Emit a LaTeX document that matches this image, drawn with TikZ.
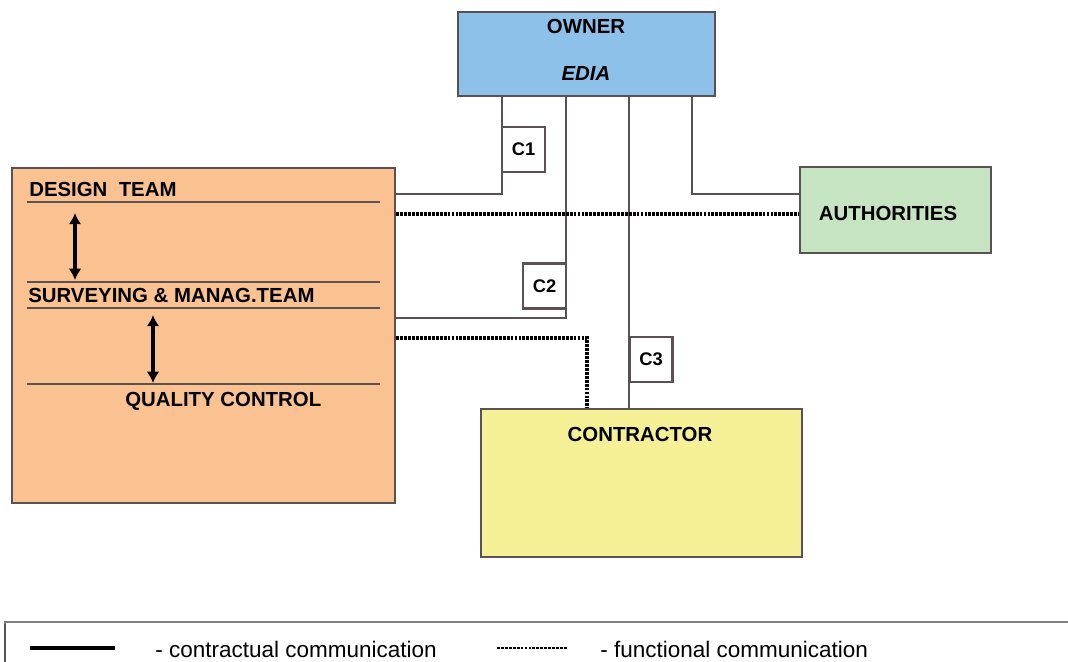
\documentclass[tikz,border=0pt]{standalone}
\usepackage{fontspec}
\setmainfont{Liberation Sans}
\usetikzlibrary{arrows.meta,calc}
\definecolor{ownerblue}{HTML}{8EC1E9}
\definecolor{teamorange}{HTML}{F9C290}
\definecolor{authgreen}{HTML}{C6E4C1}
\definecolor{contryellow}{HTML}{F5F096}
\definecolor{edge}{HTML}{5A5252}
\tikzset{
  box/.style={draw=edge, line width=2pt, inner sep=0pt},
  cbox/.style={draw=edge, line width=1.8pt, fill=white, minimum width=1.075cm, minimum height=1.125cm, inner sep=0pt, font=\bfseries\fontsize{13}{15}\selectfont},
  contract/.style={draw=edge, line width=2pt},
  functional/.style={draw=black, line width=3.2pt, dash pattern=on 2pt off 0.8pt},
  divider/.style={draw=edge, line width=1.8pt},
  lbl/.style={font=\bfseries\fontsize{14.5}{17}\selectfont, inner sep=0pt},
  twoway/.style={{Latex[length=8pt,width=9pt]}-{Latex[length=8pt,width=9pt]}, line width=3pt, black},
  legtext/.style={anchor=west, inner sep=0pt, font=\fontsize{16}{18}\selectfont},
}
\begin{document}
\begin{tikzpicture}[x=0.025cm, y=-0.025cm]
\useasboundingbox (0,0) rectangle (1068,662);

% main parties
\node[box, fill=ownerblue, minimum width=6.425cm, minimum height=2.1cm] (owner) at (586.5,54) {};
\node[lbl] (ownerlbl) at (586,26) {OWNER};
\node[lbl, font=\bfseries\itshape\fontsize{14.5}{17}\selectfont] (edia) at (586,73) {EDIA};

\node[box, fill=teamorange, minimum width=9.575cm, minimum height=8.375cm] (team) at (203.5,335.5) {};
\node[box, fill=authgreen, minimum width=4.775cm, minimum height=2.15cm] (auth) at (895.5,210) {};
\node[lbl] (authlbl) at (888,213) {AUTHORITIES};
\node[box, fill=contryellow, minimum width=8.025cm, minimum height=3.7cm] (contr) at (641.5,483) {};
\node[lbl] (contrlbl) at (640,434) {CONTRACTOR};

% team internals
\draw[divider] (27,202) -- (380,202);
\draw[divider] (27,282) -- (380,282);
\draw[divider] (27,308) -- (380,308);
\draw[divider] (27,384) -- (380,384);
\node[lbl, anchor=west] (design) at (29,189) {DESIGN\ \ TEAM};
\node[lbl, anchor=west] (survey) at (28,295) {SURVEYING \& MANAG.TEAM};
\node[lbl, anchor=west] (quality) at (125,401) {QUALITY CONTROL};
\draw[twoway] (75,213) -- (75,280);
\draw[twoway] (153,315) -- (153,383);

% routing helpers
\coordinate (y1) at (0,194);
\coordinate (y2) at (0,318);
\coordinate (yd1) at (0,214);
\coordinate (yd2) at (0,338);
\coordinate (xa) at (692,0);
\coordinate (xd) at (587,0);

% contract label positions
\coordinate (c1) at (523.5,149.5);
\coordinate (c2) at (544.5,286);
\coordinate (c3) at (651,359.5);
\coordinate (x1) at (502,0);
\coordinate (x2) at (566,0);
\coordinate (x3) at (629,0);

% contractual communication
\draw[contract] (owner.south -| x1) |- (team.east |- y1);
\draw[contract] (owner.south -| x2) |- (team.east |- y2);
\draw[contract] (owner.south -| x3) -- (contr.north -| x3);
\draw[contract] (owner.south -| xa) |- (auth.west |- y1);

% functional communication
\draw[functional] (team.east |- yd1) -- (auth.west |- yd1);
\draw[functional] (team.east |- yd2) -| (contr.north -| xd);

% contract labels over the lines
\node[cbox] (c1box) at (c1) {C1};
\node[cbox] (c2box) at (c2) {C2};
\node[cbox] (c3box) at (c3) {C3};

% legend
\draw[draw=gray, line width=2pt] (5,670) -- (5,622) -- (1075,622);
\draw[draw=edge, line width=1.5pt] (5,624) -- (5,670);
\coordinate (ls1) at (30,648);
\coordinate (ls2) at (115,648);
\draw[draw=black, line width=3.5pt] (ls1) -- (ls2);
\node[legtext] (legc) at (155,649) {- contractual communication};
\coordinate (lf1) at (497,648);
\coordinate (lf2) at (567,648);
\draw[functional, line width=2pt] (lf1) -- (lf2);
\node[legtext] (legf) at (600,649) {- functional communication};
\end{tikzpicture}
\end{document}
